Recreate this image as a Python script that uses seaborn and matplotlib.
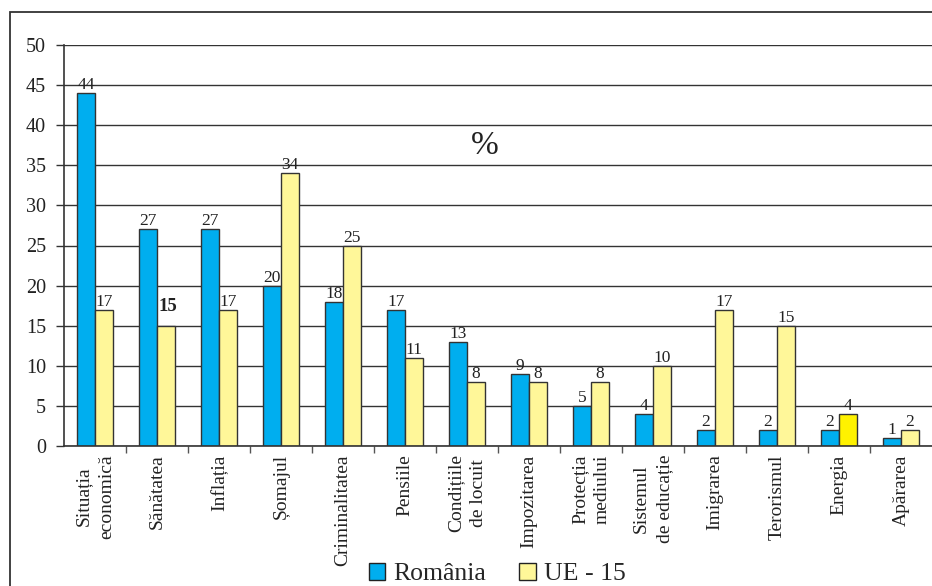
import matplotlib.pyplot as plt
import pandas as pd
import seaborn as sns
from matplotlib.patches import Patch, Rectangle

categories = ['Situația\neconomică', 'Sănătatea', 'Inflația', 'Șomajul',
              'Criminalitatea', 'Pensiile', 'Condițiile\nde locuit',
              'Impozitarea', 'Protecția\nmediului', 'Sistemul\nde educație',
              'Imigrarea', 'Terorismul', 'Energia', 'Apărarea']
romania = [44, 27, 27, 20, 18, 17, 13, 9, 5, 4, 2, 2, 2, 1]
ue15 = [17, 15, 17, 34, 25, 11, 8, 8, 8, 10, 17, 15, 4, 2]
series = ['România', 'UE - 15']
colors = ['#00aeef', '#fff799']
highlight_color = '#fff200'
highlight_cat = 'Energia'
bold_label_cat = 'Sănătatea'

df = pd.DataFrame({
    'categorie': categories * 2,
    'serie': [series[0]] * len(categories) + [series[1]] * len(categories),
    'valoare': romania + ue15,
})

sns.set_style('white')
plt.rcParams['font.family'] = ['Liberation Serif', 'DejaVu Serif']

fig = plt.figure(figsize=(9.32, 5.86), dpi=100)
ax = fig.add_axes([64 / 932, 1 - 446 / 586, 1 - 64 / 932, (446 - 45) / 586])

sns.barplot(data=df, x='categorie', y='valoare', hue='serie', order=categories,
            hue_order=series, palette=colors, width=0.58, gap=0,
            edgecolor='#333333', linewidth=1, saturation=1, legend=False, ax=ax)

# recolour the highlighted UE bar
hi = categories.index(highlight_cat)
ax.containers[1][hi].set_facecolor(highlight_color)

# value labels
bi = categories.index(bold_label_cat)
for k, cont in enumerate(ax.containers):
    vals = romania if k == 0 else ue15
    labels = [str(v) for v in vals]
    if k == 1:
        labels[bi] = ''
    ax.bar_label(cont, labels=labels, padding=0, fontsize=12.5, color='#222222')
bar = ax.containers[1][bi]
ax.annotate(str(ue15[bi]), (bar.get_x() + bar.get_width() / 2, bar.get_height()),
            xytext=(1.5, 8), textcoords='offset points', ha='center', va='bottom',
            fontsize=13.5, fontweight='bold', color='#222222')

ax.text(0.485, 0.75, '%', transform=ax.transAxes, ha='center', va='center',
        fontsize=24, color='#222222')

# axes formatting
ax.set_xlim(-0.5, len(categories) - 0.5)
ax.set_ylim(0, 50)
ax.set_yticks(range(0, 51, 5))
ax.yaxis.grid(True, color='#333333', linewidth=1)
ax.set_axisbelow(True)
ax.set_xlabel('')
ax.set_ylabel('')
ax.set_xticks(range(len(categories)))
ax.set_xticklabels(categories, rotation=90, fontsize=14, va='top',
                   ha='center', linespacing=1.45, color='#222222')
ax.set_xticks([i + 0.5 for i in range(len(categories) - 1)], minor=True)
ax.tick_params(axis='x', which='major', length=0, pad=6)
ax.tick_params(axis='x', which='minor', length=5, width=1, color='#555555',
               direction='out', bottom=True)
ax.tick_params(axis='y', length=6, width=1, color='#333333', labelsize=14.5,
               labelcolor='#222222', pad=7, left=True)
for side in ['top', 'right']:
    ax.spines[side].set_visible(False)
for side in ['left', 'bottom']:
    ax.spines[side].set_color('#333333')
    ax.spines[side].set_linewidth(1.2)

handles = [Patch(facecolor=c, edgecolor='#222222', linewidth=1, label=s)
           for c, s in zip(colors, series)]
fig.legend(handles=handles, loc='center', bbox_to_anchor=(497 / 932, 1 - 574 / 586),
           ncol=2, frameon=False, fontsize=18.5, handlelength=0.65, handleheight=0.65,
           handletextpad=0.3, columnspacing=1.3, borderaxespad=0)

# outer frame
fig.patches.append(Rectangle((10 / 932, -0.1), 1.2, 1.1 - 12 / 586,
                             transform=fig.transFigure, fill=False,
                             edgecolor='#333333', linewidth=1.3))

fig.savefig('out.png', dpi=100)
